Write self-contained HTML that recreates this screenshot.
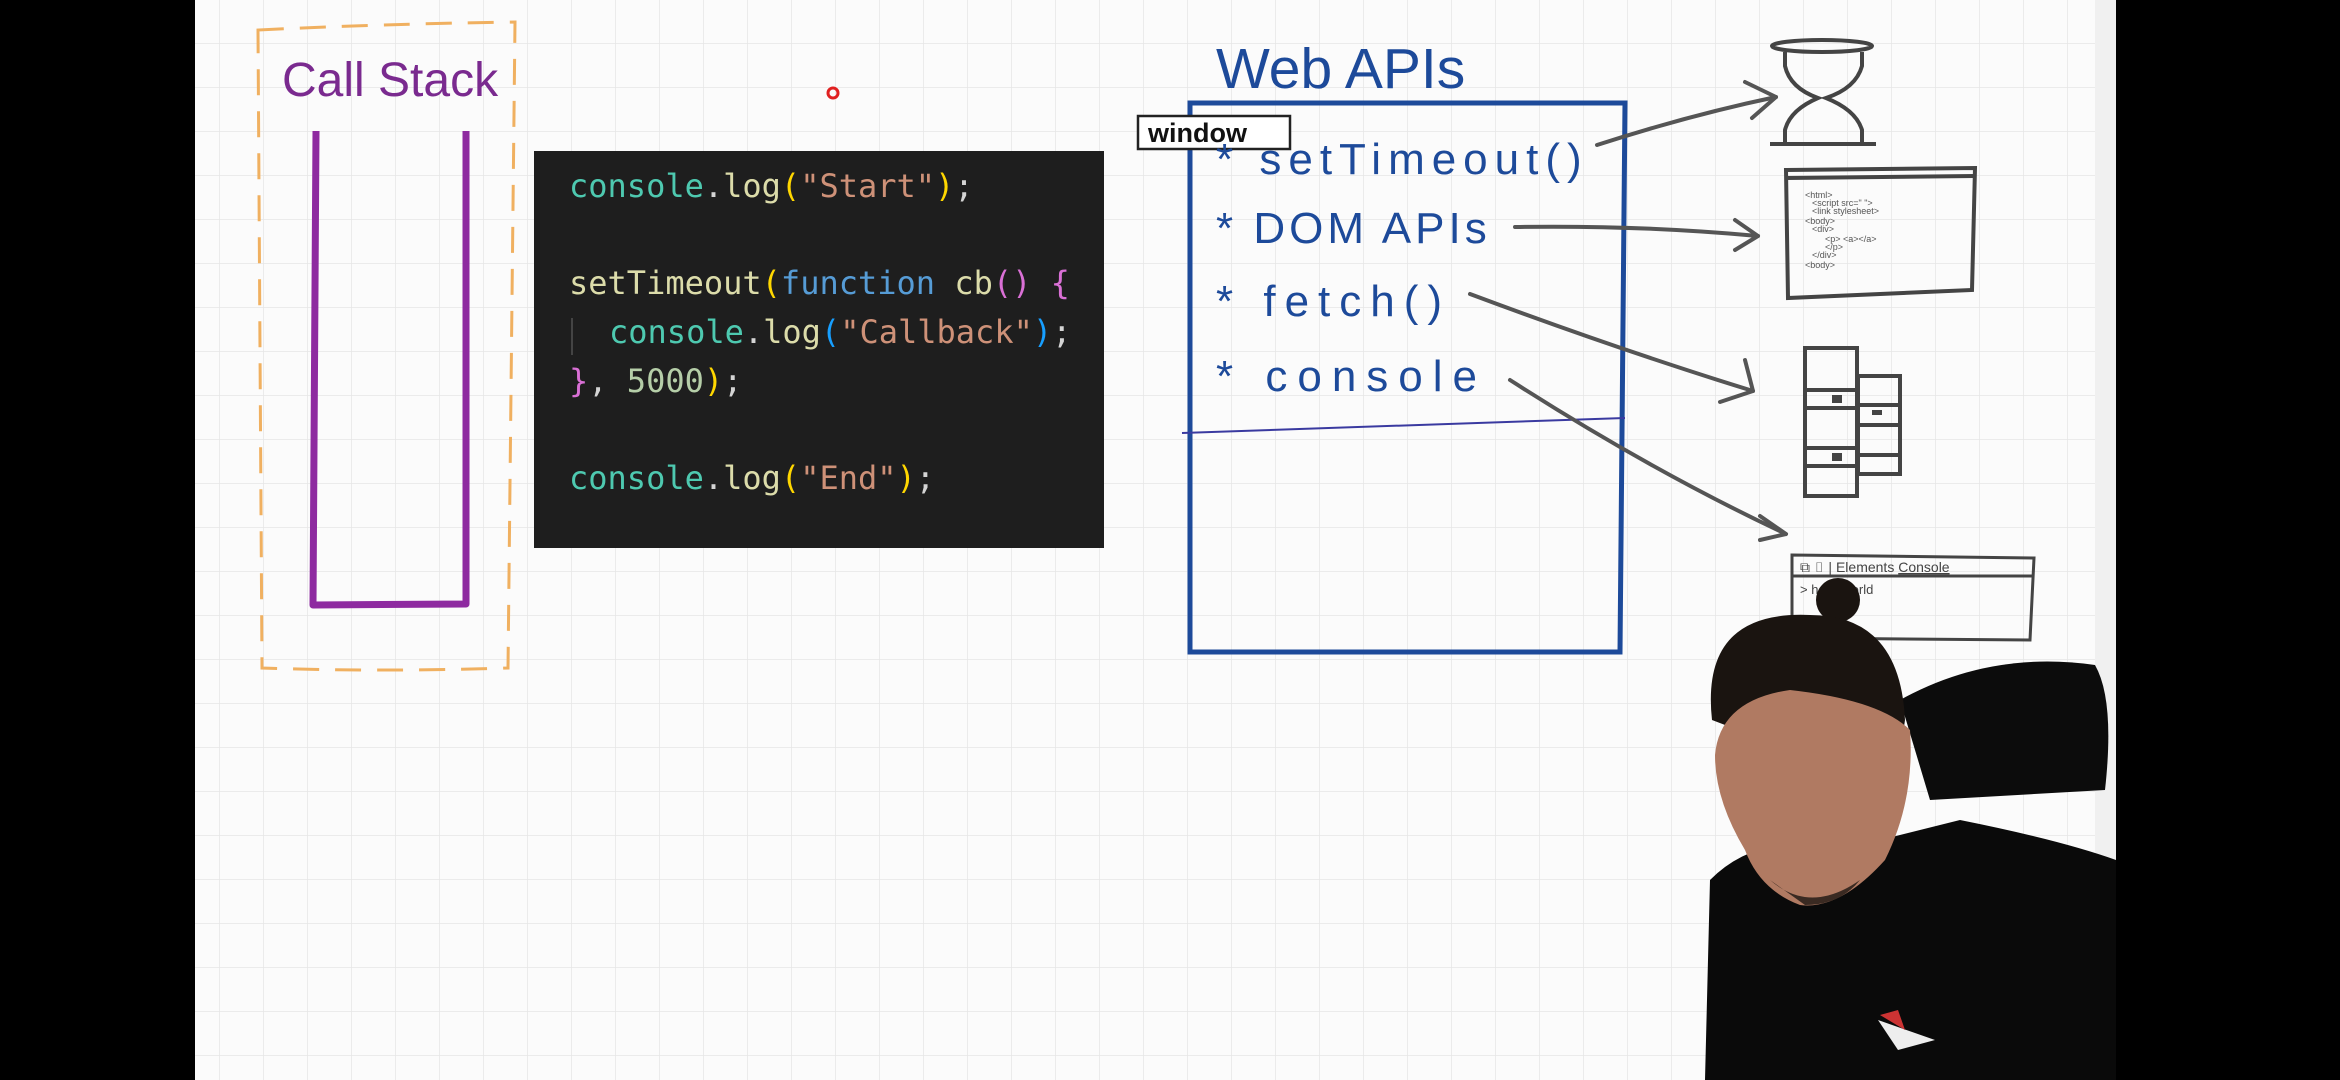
<!DOCTYPE html>
<html><head><meta charset="utf-8"><style>
html,body{margin:0;padding:0;width:2340px;height:1080px;overflow:hidden;background:#000}
svg{display:block}
</style></head><body>
<svg width="2340" height="1080" viewBox="0 0 2340 1080" xmlns="http://www.w3.org/2000/svg">
<defs>
<pattern id="g" x="0" y="0" width="44" height="44" patternUnits="userSpaceOnUse">
<path d="M44 0V44M0 44H44" stroke="#e6e6e6" stroke-width="1.5" fill="none"/>
</pattern>
</defs>
<rect x="0" y="0" width="2340" height="1080" fill="#000"/>
<rect x="195" y="0" width="1921" height="1080" fill="#fbfbfb"/>
<rect x="195" y="0" width="1900" height="1080" fill="url(#g)"/>
<rect x="2095" y="0" width="21" height="1080" fill="#f0f0f0"/>

<!-- Call stack -->
<path d="M258 30 Q380 24 515 22 L508 668 Q380 672 262 668 Z" fill="none" stroke="#f0b060" stroke-width="3" stroke-dasharray="26 16"/>
<text x="282" y="96" font-family="Liberation Sans, sans-serif" font-size="48" fill="#7a2a8f">Call Stack</text>
<path d="M316 131 L313 605 L466 604 L466 131" fill="none" stroke="#8e2aa0" stroke-width="7" stroke-linejoin="round"/>
<circle cx="833" cy="93" r="5" fill="none" stroke="#e02020" stroke-width="3"/>

<!-- Code box -->
<rect x="534" y="151" width="570" height="397" fill="#1e1e1e"/>
<g font-family="DejaVu Sans Mono, Liberation Mono, monospace" font-size="32" fill="#d4d4d4">
<text x="569" y="197"><tspan fill="#4ec9b0">console</tspan>.<tspan fill="#dcdcaa">log</tspan><tspan fill="#ffd700">(</tspan><tspan fill="#ce9178">"Start"</tspan><tspan fill="#ffd700">)</tspan>;</text>
<text x="569" y="294"><tspan fill="#dcdcaa">setTimeout</tspan><tspan fill="#ffd700">(</tspan><tspan fill="#569cd6">function</tspan> <tspan fill="#dcdcaa">cb</tspan><tspan fill="#da70d6">()</tspan> <tspan fill="#da70d6">{</tspan></text>
<text x="609" y="343"><tspan fill="#4ec9b0">console</tspan>.<tspan fill="#dcdcaa">log</tspan><tspan fill="#179fff">(</tspan><tspan fill="#ce9178">"Callback"</tspan><tspan fill="#179fff">)</tspan>;</text>
<text x="569" y="392"><tspan fill="#da70d6">}</tspan>, <tspan fill="#b5cea8">5000</tspan><tspan fill="#ffd700">)</tspan>;</text>
<text x="569" y="489"><tspan fill="#4ec9b0">console</tspan>.<tspan fill="#dcdcaa">log</tspan><tspan fill="#ffd700">(</tspan><tspan fill="#ce9178">"End"</tspan><tspan fill="#ffd700">)</tspan>;</text>
</g>
<line x1="572" y1="318" x2="572" y2="355" stroke="#444" stroke-width="2"/>

<!-- Web APIs -->
<text x="1216" y="88" font-family="Liberation Sans, sans-serif" font-size="57" fill="#1d4a9a">Web APIs</text>
<path d="M1190 103 L1625 103 L1620 652 L1190 652 Z" fill="none" stroke="#1d4a9a" stroke-width="5"/>
<path d="M1182 433 Q1400 425 1625 418" fill="none" stroke="#3a3aa0" stroke-width="2"/>
<rect x="1138" y="116" width="152" height="33" fill="#fff" stroke="#222" stroke-width="2.5"/>
<text x="1148" y="142" font-family="Liberation Sans, sans-serif" font-weight="bold" font-size="27" fill="#111">window</text>
<g font-family="Liberation Sans, sans-serif" font-size="44" fill="#1d4a9a">
<text x="1216" y="174" letter-spacing="7">* setTimeout()</text>
<text x="1216" y="243" letter-spacing="4">* DOM APIs</text>
<text x="1216" y="316" letter-spacing="9">* fetch()</text>
<text x="1216" y="391" letter-spacing="10">* console</text>
</g>

<!-- arrows -->
<g fill="none" stroke="#555" stroke-width="4" stroke-linecap="round" stroke-linejoin="round">
<path d="M1597 145 Q1690 115 1776 97"/><path d="M1745 82 L1776 97 L1752 118"/>
<path d="M1515 227 Q1640 225 1758 236"/><path d="M1735 220 L1758 236 L1735 250"/>
<path d="M1470 294 Q1620 350 1753 391"/><path d="M1745 360 L1753 391 L1720 402"/>
<path d="M1510 380 Q1650 470 1786 534"/><path d="M1760 516 L1786 534 L1760 540"/>
</g>

<!-- hourglass -->
<g fill="none" stroke="#444" stroke-width="4">
<ellipse cx="1822" cy="46" rx="50" ry="6"/>
<path d="M1785 52 L1785 66 Q1790 88 1818 98 Q1790 110 1785 130 L1785 142"/>
<path d="M1862 52 L1862 66 Q1856 88 1826 98 Q1856 110 1862 130 L1862 142"/>
<path d="M1770 144 L1876 144"/>
</g>
<!-- code window sketch -->
<g fill="none" stroke="#444" stroke-width="4">
<path d="M1786 170 L1975 168 L1972 290 L1788 298 Z"/>
<path d="M1786 178 L1975 176"/>
</g>
<g font-family="Liberation Sans, sans-serif" font-size="9" fill="#555">
<text x="1805" y="198">&lt;html&gt;</text><text x="1812" y="206">&lt;script src="  "&gt;</text><text x="1812" y="214">&lt;link stylesheet&gt;</text>
<text x="1805" y="224">&lt;body&gt;</text><text x="1812" y="232">&lt;div&gt;</text><text x="1825" y="242">&lt;p&gt; &lt;a&gt;&lt;/a&gt;</text>
<text x="1825" y="250">&lt;/p&gt;</text><text x="1812" y="258">&lt;/div&gt;</text><text x="1805" y="268">&lt;body&gt;</text>
</g>
<!-- servers -->
<g fill="none" stroke="#444" stroke-width="4">
<rect x="1805" y="348" width="52" height="148"/>
<path d="M1805 390 H1857 M1805 408 H1857 M1805 448 H1857 M1805 466 H1857"/>
<rect x="1858" y="376" width="42" height="98"/>
<path d="M1858 405 H1900 M1858 425 H1900 M1858 455 H1900"/>
</g>
<g fill="#444"><rect x="1832" y="395" width="10" height="8"/><rect x="1832" y="453" width="10" height="8"/><rect x="1872" y="410" width="10" height="5"/></g>
<!-- devtools -->
<g fill="none" stroke="#444" stroke-width="3">
<path d="M1792 555 L2034 558 L2030 640 L1792 638 Z"/><path d="M1792 576 L2034 576"/>
</g>
<text x="1800" y="572" font-family="Liberation Sans, sans-serif" font-size="14" fill="#444">⧉ ▯ | Elements  <tspan text-decoration="underline">Console</tspan></text>
<text x="1800" y="594" font-family="Liberation Sans, sans-serif" font-size="13" fill="#444">&gt; hello world</text>

<!-- person -->
<path d="M1900 700 Q1990 650 2095 665 Q2115 700 2105 790 L1930 800 Z" fill="#0c0c0c"/>
<path d="M1705 1080 L1710 880 Q1760 830 1840 850 L1960 820 Q2060 840 2116 860 L2116 1080 Z" fill="#0a0a0a"/>
<ellipse cx="1838" cy="600" rx="22" ry="22" fill="#1a1410"/>
<path d="M1712 720 Q1700 610 1810 615 Q1900 615 1905 720 L1895 790 Z" fill="#1a1410"/>
<path d="M1715 755 Q1720 700 1790 690 Q1880 700 1910 730 Q1915 800 1885 860 Q1840 910 1800 905 Q1760 890 1745 850 Q1715 800 1715 755 Z" fill="#b07a62"/>
<path d="M1770 880 Q1810 915 1860 880 Q1840 905 1805 905 Z" fill="#3a2a22"/>
<path d="M1878 1020 L1935 1040 L1898 1050 Z" fill="#eee"/>
<path d="M1880 1015 L1898 1010 L1905 1030 Z" fill="#c33"/>
</svg>
</body></html>
